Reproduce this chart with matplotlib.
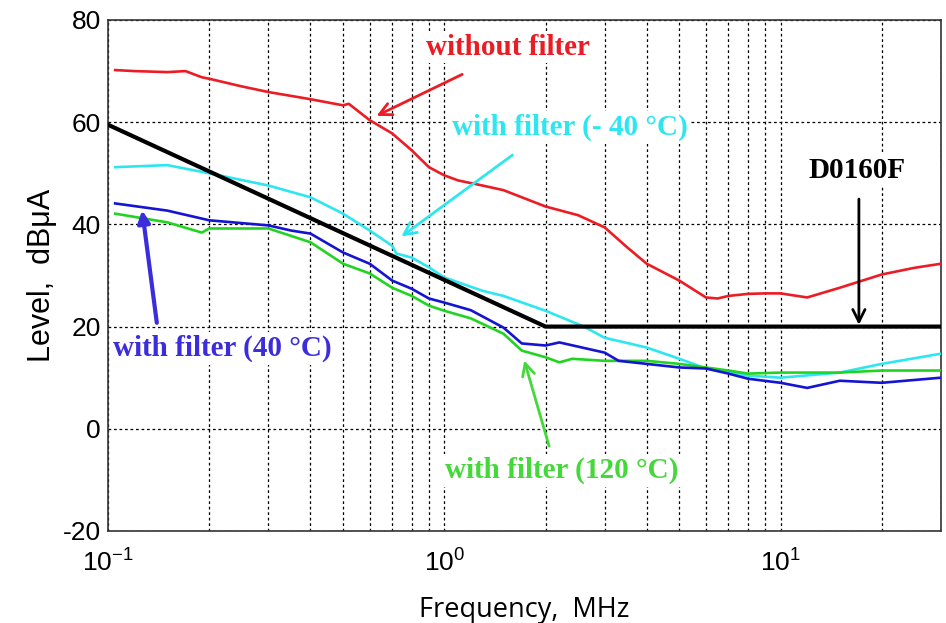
import matplotlib
matplotlib.use("Agg")
import matplotlib.pyplot as plt
import numpy as np
from matplotlib.ticker import LogLocator

plt.rcParams["axes.unicode_minus"] = False

# ---- data ----
freq_red = [0.105, 0.12, 0.15, 0.17, 0.19, 0.2, 0.25, 0.3, 0.4, 0.5, 0.52, 0.6, 0.7, 0.8, 0.9, 1.0, 1.1, 1.3,
            1.5, 2.0, 2.5, 3.0, 3.5, 4.0, 5.0, 6.0, 6.5, 7.0, 8.0, 9.0, 10.0, 12.0, 15.0, 20.0, 25.0, 30.0]
lvl_red = [70.2, 70.0, 69.8, 70.0, 68.8, 68.5, 67.0, 65.9, 64.5, 63.3, 63.6, 60.4, 57.8, 54.5, 51.2, 49.6, 48.6, 47.6,
           46.7, 43.5, 41.8, 39.4, 35.5, 32.3, 29.0, 25.7, 25.5, 26.0, 26.4, 26.5, 26.5, 25.7, 27.6, 30.2, 31.5, 32.3]

freq_cyan = [0.105, 0.15, 0.2, 0.3, 0.4, 0.5, 0.6, 0.7, 0.72, 0.8, 0.9, 1.0, 1.3, 1.5, 2.0, 2.6, 3.0, 4.0, 5.0,
             6.0, 7.0, 8.0, 10.0, 15.0, 20.0, 30.0]
lvl_cyan = [51.2, 51.6, 50.0, 47.6, 45.3, 42.1, 38.8, 35.8, 34.3, 33.5, 31.6, 29.6, 27.0, 26.0, 23.1, 20.0, 17.8, 15.9,
            13.7, 11.8, 11.0, 10.4, 10.0, 11.0, 12.7, 14.7]

freq_blue = [0.105, 0.15, 0.2, 0.3, 0.35, 0.4, 0.5, 0.6, 0.7, 0.8, 0.9, 1.0, 1.2, 1.5, 1.7, 2.0, 2.2, 3.0, 3.3,
             4.0, 5.0, 6.0, 7.0, 8.0, 10.0, 12.0, 15.0, 20.0, 30.0]
lvl_blue = [44.1, 42.7, 40.8, 39.8, 38.8, 38.2, 34.5, 32.3, 29.0, 27.4, 25.5, 24.7, 23.2, 19.8, 16.7, 16.3, 16.9, 14.9, 13.3,
            12.7, 12.0, 11.8, 10.8, 9.8, 9.0, 8.0, 9.4, 9.0, 10.0]

freq_green = [0.105, 0.15, 0.19, 0.2, 0.3, 0.4, 0.5, 0.6, 0.7, 0.8, 0.9, 1.0, 1.2, 1.5, 1.7, 2.0, 2.2, 2.4, 3.0,
              4.0, 5.0, 6.0, 7.0, 8.0, 10.0, 15.0, 20.0, 30.0]
lvl_green = [42.1, 40.4, 38.4, 39.2, 39.2, 36.5, 32.3, 30.4, 27.6, 26.0, 24.1, 23.1, 21.6, 18.6, 15.3, 14.0, 13.0, 13.7, 13.3,
             13.3, 12.7, 12.0, 11.4, 10.8, 11.0, 11.0, 11.4, 11.4]

freq_limit = [0.1, 2.0, 30.0]
lvl_limit = [59.5, 20.0, 20.0]

x_range = [0.1, 30.0]
y_ticks = [-20, 0, 20, 40, 60, 80]

C_RED = "#ec1c24"
C_CYAN = "#2ee6f0"
C_BLUE = "#1414d2"
C_BLUE_TXT = "#3c2ddc"
C_GREEN = "#22d422"
C_GREEN_TXT = "#44d83a"

fig = plt.figure(figsize=(9.46, 6.23), dpi=100)
ax = fig.add_axes([0.1142, 0.1477, 0.8805, 0.8202])
ax.set_xscale("log")
ax.set_xlim(*x_range)
ax.set_ylim(-20, 80)
ax.set_yticks(y_ticks)
ax.xaxis.set_major_locator(LogLocator(base=10, numticks=10))
ax.xaxis.set_minor_locator(LogLocator(base=10, subs=np.arange(2, 10), numticks=10))
ax.xaxis.set_minor_formatter(plt.NullFormatter())

grid_kw = dict(color="black", linestyle=(0, (2.2, 2.2)), linewidth=0.9)
ax.grid(True, which="both", axis="x", **grid_kw)
ax.grid(True, which="major", axis="y", **grid_kw)
ax.set_axisbelow(True)

ax.tick_params(which="both", direction="in", length=0)
ax.tick_params(axis="y", labelsize=19, pad=5)
ax.tick_params(axis="x", labelsize=19, pad=13)
for lab in ax.get_xticklabels() + ax.get_yticklabels():
    lab.set_fontfamily("Liberation Sans")
for s in ax.spines.values():
    s.set_color("#333333")
    s.set_linewidth(1.2)

ax.plot(freq_red, lvl_red, color=C_RED, lw=1.9, zorder=3)
ax.plot(freq_cyan, lvl_cyan, color=C_CYAN, lw=1.9, zorder=3)
ax.plot(freq_green, lvl_green, color=C_GREEN, lw=1.9, zorder=3)
ax.plot(freq_blue, lvl_blue, color=C_BLUE, lw=1.9, zorder=3)
ax.plot(freq_limit, lvl_limit, color="black", lw=3.0, zorder=4)

ax.set_xlabel("Frequency,  MHz", fontsize=19.5, family="Open Sans", labelpad=14)
ax.set_ylabel("Level,  dB\u03bcA", fontsize=22, family="Liberation Sans", labelpad=4)

tkw = dict(family="Liberation Serif", fontweight="bold", fontsize=21, zorder=5,
           bbox=dict(facecolor="white", edgecolor="none", pad=2))

ax.text(1.55, 74.7, "without filter", color=C_RED, ha="center", va="center", **tkw)
ax.annotate("", xy=(0.618, 61.0), xytext=(1.15, 69.6),
            arrowprops=dict(arrowstyle="->", color=C_RED, lw=2, mutation_scale=22), zorder=5)

ax.text(2.36, 59.0, "with filter (- 40 \u00b0C)", color=C_CYAN, ha="center", va="center", **tkw)
ax.annotate("", xy=(0.734, 37.3), xytext=(1.62, 53.9),
            arrowprops=dict(arrowstyle="->", color=C_CYAN, lw=2, mutation_scale=22), zorder=5)

ax.text(16.9, 50.6, "D0160F", color="black", ha="center", va="center", **tkw)
ax.annotate("", xy=(17.1, 19.8), xytext=(17.1, 45.5),
            arrowprops=dict(arrowstyle="->", color="black", lw=2, mutation_scale=22), zorder=5)

ax.text(0.219, 15.7, "with filter (40 \u00b0C)", color=C_BLUE_TXT, ha="center", va="center", **tkw)
ax.annotate("", xy=(0.126, 43.3), xytext=(0.14, 20.2),
            arrowprops=dict(arrowstyle="-|>", color=C_BLUE_TXT, lw=3, mutation_scale=18), zorder=5)

ax.text(2.23, -8.2, "with filter (120 \u00b0C)", color=C_GREEN_TXT, ha="center", va="center", **tkw)
ax.annotate("", xy=(1.72, 13.9), xytext=(2.06, -3.9),
            arrowprops=dict(arrowstyle="->", color=C_GREEN_TXT, lw=2, mutation_scale=22), zorder=5)

fig.savefig("out.png", dpi=100)
